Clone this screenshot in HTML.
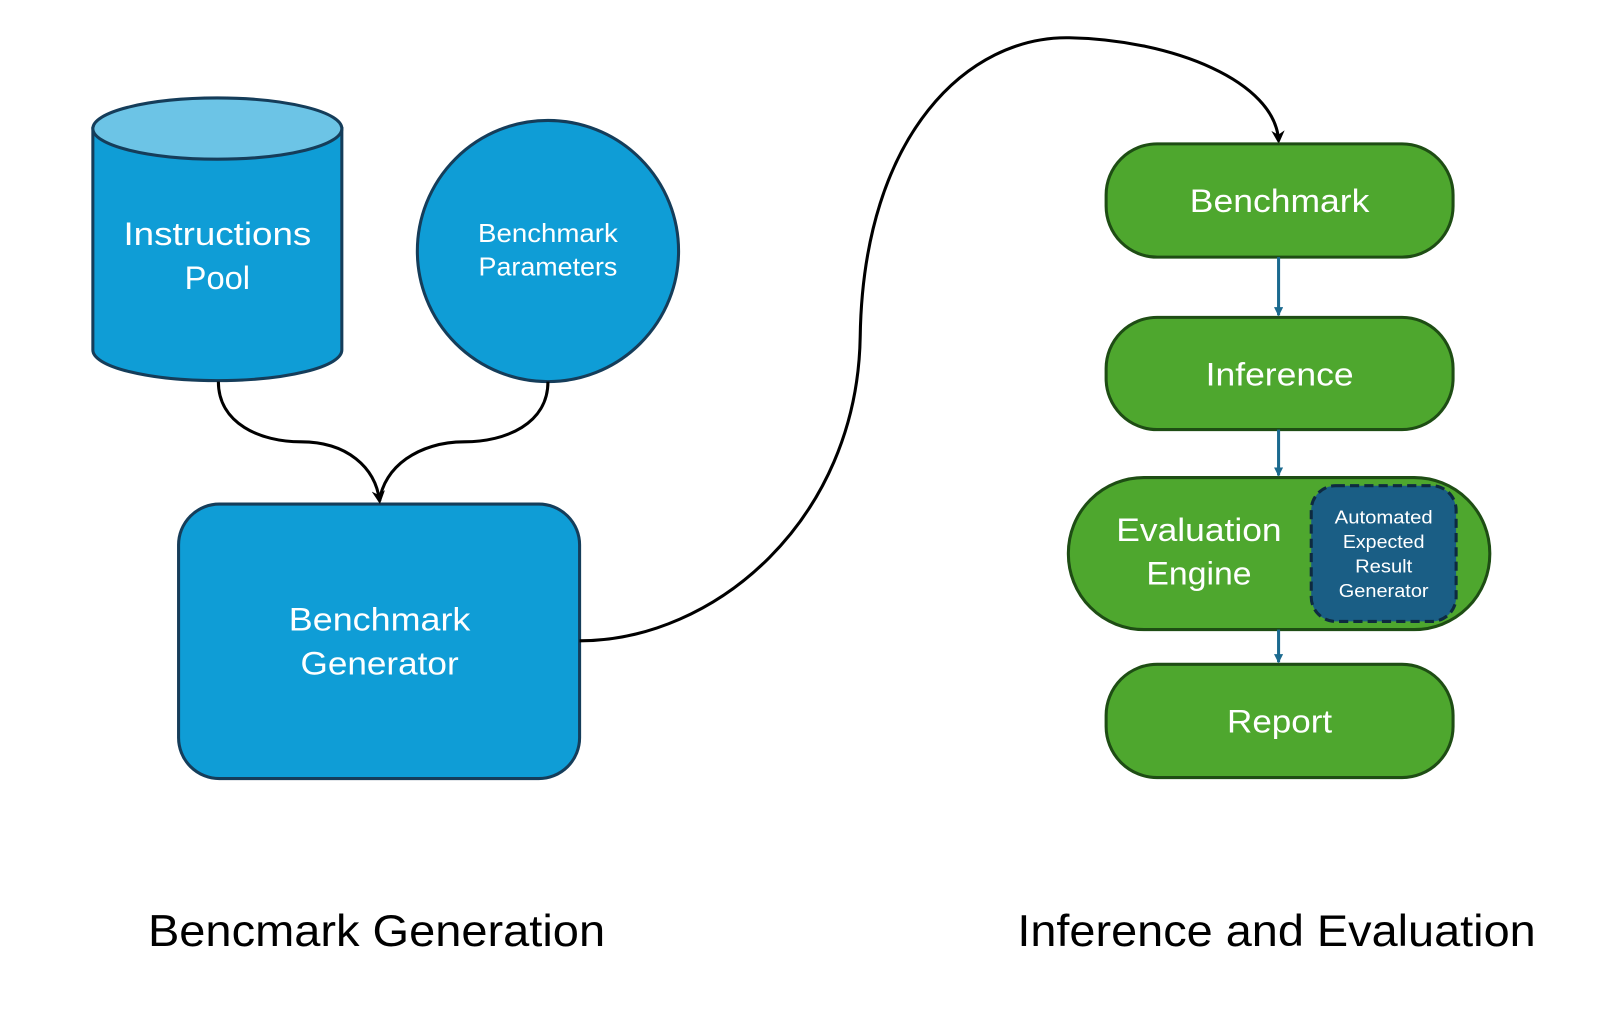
<!DOCTYPE html>
<html><head><meta charset="utf-8"><style>
html,body{margin:0;padding:0;background:#fff;width:1600px;height:1030px;overflow:hidden}
svg{display:block}
text{font-family:"Liberation Sans",sans-serif;fill:#fff}
</style></head><body>
<svg width="1600" height="1030" viewBox="0 0 1568 1009.4" preserveAspectRatio="none" xmlns="http://www.w3.org/2000/svg">
<defs>
<marker id="ab" markerWidth="13" markerHeight="13" refX="10" refY="6.5" orient="auto" markerUnits="userSpaceOnUse"><path d="M0,0 L13,6.5 L0,13 L4,6.5 z" fill="#000"/></marker>
<marker id="ag" markerWidth="9" markerHeight="9" refX="8" refY="4.5" orient="auto" markerUnits="userSpaceOnUse"><path d="M0,0 L9,4.5 L0,9 z" fill="#1b6a8f"/></marker>
</defs>
<path d="M91,126 L91,343 A122,30 0 0 0 335,343 L335,126 Z" fill="#0f9dd6" stroke="#153d5a" stroke-width="3"/>
<ellipse cx="213" cy="126" rx="122" ry="30" fill="#6cc4e6" stroke="#153d5a" stroke-width="3"/>
<text x="213" y="240" font-size="32" text-anchor="middle" textLength="184" lengthAdjust="spacingAndGlyphs">Instructions</text>
<text x="213" y="283" font-size="32" text-anchor="middle">Pool</text>
<circle cx="537" cy="246" r="128" fill="#0f9dd6" stroke="#153d5a" stroke-width="3"/>
<text x="537" y="237" font-size="25" text-anchor="middle" textLength="137" lengthAdjust="spacingAndGlyphs">Benchmark</text>
<text x="537" y="270" font-size="25" text-anchor="middle" textLength="136" lengthAdjust="spacingAndGlyphs">Parameters</text>
<rect x="175" y="494" width="393" height="269" rx="40" fill="#0f9dd6" stroke="#153d5a" stroke-width="3"/>
<text x="372" y="618" font-size="32" text-anchor="middle" textLength="178" lengthAdjust="spacingAndGlyphs">Benchmark</text>
<text x="372" y="661" font-size="32" text-anchor="middle" textLength="155" lengthAdjust="spacingAndGlyphs">Generator</text>
<path d="M214,374 C214,415 255,433 295,433 C340,433 368,458 372,491" fill="none" stroke="#000" stroke-width="3" marker-end="url(#ab)"/>
<path d="M537,374 C537,415 496,433 455,433 C410,433 376,458 372,491" fill="none" stroke="#000" stroke-width="3"/>
<path d="M568,628 C700,628 840,510 843,330 C846,130 950,35 1048,37 C1150,39 1250,80 1253,138" fill="none" stroke="#000" stroke-width="3" marker-end="url(#ab)"/>
<g fill="#4ea72e" stroke="#1e4d14" stroke-width="3">
<rect x="1084" y="141" width="340" height="111" rx="50"/>
<rect x="1084" y="311" width="340" height="110" rx="50"/>
<rect x="1047" y="468" width="413" height="149" rx="74"/>
<rect x="1084" y="651" width="340" height="111" rx="50"/>
</g>
<rect x="1285" y="476" width="142" height="133" rx="24" fill="#1a5e85" stroke="#0e2a40" stroke-width="3" stroke-dasharray="9,5"/>
<g stroke="#1b6a8f" stroke-width="3" fill="none">
<line x1="1253" y1="252" x2="1253" y2="309" marker-end="url(#ag)"/>
<line x1="1253" y1="421" x2="1253" y2="466" marker-end="url(#ag)"/>
<line x1="1253" y1="617" x2="1253" y2="649" marker-end="url(#ag)"/>
</g>
<text x="1254" y="208" font-size="32" text-anchor="middle" textLength="176" lengthAdjust="spacingAndGlyphs">Benchmark</text>
<text x="1254" y="378" font-size="32" text-anchor="middle" textLength="145" lengthAdjust="spacingAndGlyphs">Inference</text>
<text x="1175" y="530" font-size="32" text-anchor="middle" textLength="162" lengthAdjust="spacingAndGlyphs">Evaluation</text>
<text x="1175" y="573" font-size="32" text-anchor="middle" textLength="103" lengthAdjust="spacingAndGlyphs">Engine</text>
<text x="1254" y="718" font-size="32" text-anchor="middle" textLength="103" lengthAdjust="spacingAndGlyphs">Report</text>
<text x="1356" y="513" font-size="18" text-anchor="middle" textLength="96" lengthAdjust="spacingAndGlyphs">Automated</text>
<text x="1356" y="537" font-size="18" text-anchor="middle" textLength="80" lengthAdjust="spacingAndGlyphs">Expected</text>
<text x="1356" y="561" font-size="18" text-anchor="middle" textLength="56" lengthAdjust="spacingAndGlyphs">Result</text>
<text x="1356" y="585" font-size="18" text-anchor="middle" textLength="88" lengthAdjust="spacingAndGlyphs">Generator</text>
<text x="145" y="927" font-size="44" style="fill:#000" textLength="448" lengthAdjust="spacingAndGlyphs">Bencmark Generation</text>
<text x="997" y="927" font-size="44" style="fill:#000" textLength="508" lengthAdjust="spacingAndGlyphs">Inference and Evaluation</text>
</svg>
</body></html>
